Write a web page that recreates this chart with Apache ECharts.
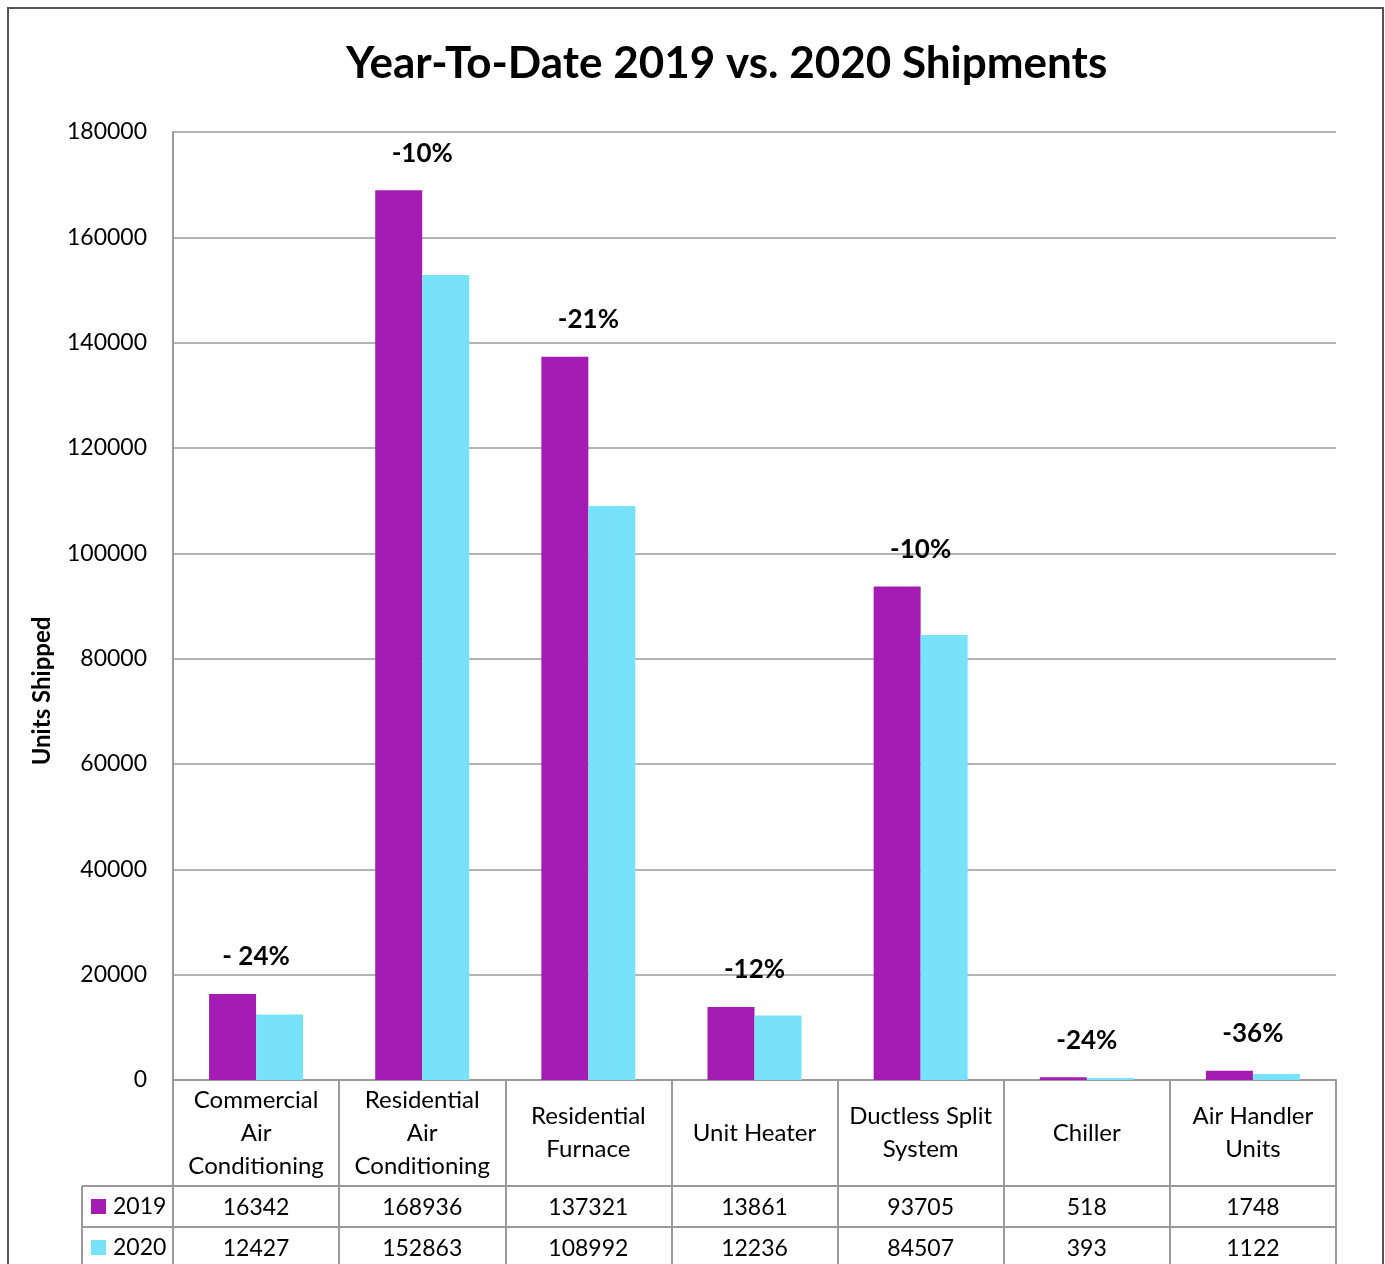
<!DOCTYPE html>
<html>
<head>
<meta charset="utf-8">
<script src="https://cdn.jsdelivr.net/npm/echarts@6/dist/echarts.min.js"></script>
<style>
html,body{margin:0;padding:0;background:#fff;}
#chart{width:1385px;height:1264px;}
</style>
</head>
<body>
<div id="chart"></div>
<script>
// ---- data ----
const categories = ["Commercial\nAir\nConditioning", "Residential\nAir\nConditioning", "Residential\nFurnace", "Unit Heater", "Ductless Split\nSystem", "Chiller", "Air Handler\nUnits"];
const values2019 = [16342, 168936, 137321, 13861, 93705, 518, 1748];
const values2020 = [12427, 152863, 108992, 12236, 84507, 393, 1122];
const changeLabels = ["- 24%", "-10%", "-21%", "-12%", "-10%", "-24%", "-36%"];
const seriesNames = ["2019", "2020"];

const FONT = 'Lato';
const C19 = '#A51CB4';
const C20 = '#78E2FB';
const LINE = '#9a9a9a';

const chart = echarts.init(document.getElementById('chart'));

const tableAxis = (offset, arr) => ({
  type: 'category',
  data: categories,
  position: 'bottom',
  offset: offset,
  axisLine: {show: true, lineStyle: {color: LINE, width: 2}},
  axisTick: {show: true, interval: 0, alignWithLabel: false, length: 41, lineStyle: {color: LINE, width: 2}},
  axisLabel: {
    interval: 0, margin: 22, verticalAlign: 'middle',
    fontFamily: FONT, fontSize: 23, color: '#000',
    formatter: (v, i) => String(arr[i])
  },
  splitLine: {show: false}
});

const legendItem = (name, top) => ({
  orient: 'vertical',
  left: 91,
  top: top,
  itemWidth: 15,
  itemHeight: 15,
  itemGap: 0,
  padding: 0,
  icon: 'rect',
  selectedMode: false,
  textStyle: {fontFamily: FONT, fontSize: 23, color: '#000', padding: [0, 0, 0, 2]},
  data: [name]
});

chart.setOption({
  backgroundColor: '#fff',
  animation: false,
  title: {
    text: 'Year-To-Date 2019 vs. 2020 Shipments',
    left: 346,
    top: 42,
    padding: 0,
    textStyle: {fontFamily: FONT, fontWeight: 'bold', fontSize: 44, color: '#000'}
  },
  legend: [legendItem(seriesNames[0], 1195), legendItem(seriesNames[1], 1236)],
  grid: {left: 173, right: 49, top: 132, bottom: 184, containLabel: false},
  xAxis: [
    {
      type: 'category',
      data: categories,
      axisLine: {show: true, lineStyle: {color: LINE, width: 2}},
      axisTick: {show: true, interval: 0, alignWithLabel: false, length: 106, lineStyle: {color: LINE, width: 2}},
      axisLabel: {
        interval: 0, margin: 53, verticalAlign: 'middle', lineHeight: 33,
        fontFamily: FONT, fontSize: 24, color: '#000'
      }
    },
    tableAxis(106, values2019),
    tableAxis(147, values2020)
  ],
  yAxis: {
    type: 'value',
    min: 0, max: 180000, interval: 20000,
    axisLine: {show: true, lineStyle: {color: LINE, width: 2}},
    axisTick: {show: false},
    axisLabel: {margin: 26, fontFamily: FONT, fontSize: 23, color: '#000', formatter: v => String(v)},
    splitLine: {show: true, lineStyle: {color: LINE, width: 1.5}}
  },
  series: [
    {
      name: seriesNames[0], type: 'bar', data: values2019,
      barWidth: 47, barGap: '0%',
      itemStyle: {color: C19},
      label: {
        show: true, position: 'top', distance: 24, offset: [23.5, 0],
        fontFamily: FONT, fontWeight: 'bold', fontSize: 26, color: '#000',
        formatter: p => changeLabels[p.dataIndex]
      }
    },
    {
      name: seriesNames[1], type: 'bar', data: values2020,
      barWidth: 47, barGap: '0%',
      itemStyle: {color: C20}
    }
  ],
  graphic: [
    {type: 'rect', shape: {x: 8, y: 8, width: 1375, height: 1300}, style: {fill: null, stroke: '#555', lineWidth: 2}, silent: true},
    {type: 'line', shape: {x1: 82, y1: 1186, x2: 173, y2: 1186}, style: {stroke: LINE, lineWidth: 2}, silent: true},
    {type: 'line', shape: {x1: 82, y1: 1227, x2: 173, y2: 1227}, style: {stroke: LINE, lineWidth: 2}, silent: true},
    {type: 'line', shape: {x1: 82, y1: 1186, x2: 82, y2: 1270}, style: {stroke: LINE, lineWidth: 2}, silent: true},
    {type: 'text', x: 42, y: 691, rotation: Math.PI / 2,
     style: {text: 'Units Shipped', fontFamily: FONT, fontWeight: 'bold', fontSize: 24, fill: '#000', textAlign: 'center', textVerticalAlign: 'middle'}, silent: true}
  ]
});
</script>
</body>
</html>
